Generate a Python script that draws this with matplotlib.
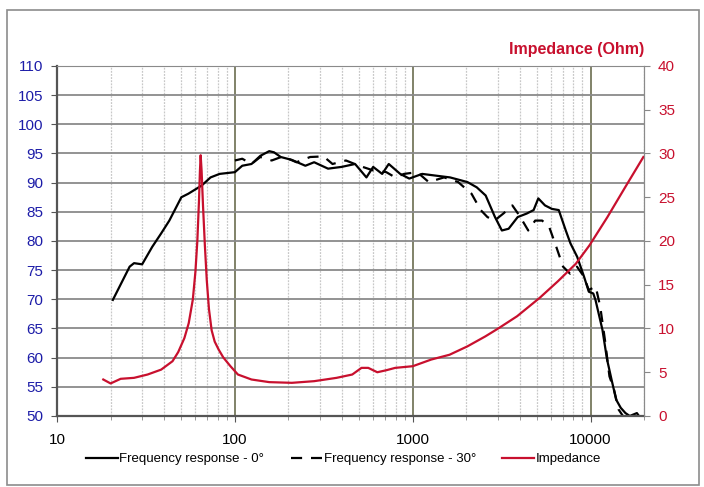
import matplotlib.pyplot as plt
from matplotlib.patches import Rectangle
from matplotlib.ticker import FixedLocator, NullFormatter, LogLocator

plt.rcParams["font.family"] = ["Liberation Sans", "DejaVu Sans"]

# Frequency response - 0 deg (Hz, dB)
f0 = [20.6, 25.6, 27.1, 30.1, 34.3, 38.5, 42.8, 50, 54.7, 65, 73, 82, 100,
      110, 124, 139, 156, 166, 181, 209, 249, 279, 334, 398, 474, 549, 599,
      673, 733, 850, 956, 1130, 1350, 1620, 2030, 2290, 2570, 2900, 3170,
      3460, 3890, 4370, 4780, 5080, 5540, 6060, 6620, 7250, 7700, 8400, 9180,
      9770, 10350, 10650, 11650, 12370, 13120, 13920, 14770, 15700, 16600,
      18200, 18700]
spl0 = [69.9, 75.6, 76.2, 76.0, 79.0, 81.3, 83.5, 87.5, 88.1, 89.5, 90.9,
        91.5, 91.8, 92.9, 93.2, 94.6, 95.4, 95.2, 94.4, 93.9, 92.9, 93.5,
        92.4, 92.7, 93.2, 90.9, 92.7, 91.5, 93.2, 91.5, 90.7, 91.5, 91.2,
        90.9, 90.1, 89.2, 87.8, 84.1, 81.8, 82.1, 84.1, 84.7, 85.3, 87.3,
        86.1, 85.5, 85.3, 81.8, 79.6, 77.3, 73.9, 71.3, 71.0, 69.9, 64.8,
        59.7, 56.2, 52.8, 51.4, 50.5, 50.0, 50.5, 50.0]

# Frequency response - 30 deg
f30 = [100, 110, 124, 139, 161, 186, 222, 265, 315, 354, 421, 500, 599, 710,
       797, 893, 1060, 1230, 1500, 1800, 2140, 2410, 2630, 2880, 3230, 3630,
       3970, 4460, 4880, 5340, 5850, 6410, 7000, 7660, 8380, 9170, 9760,
       10680, 11330, 12030, 12760, 13540, 14370, 15200]
spl30 = [93.8, 94.1, 93.2, 94.4, 93.8, 94.5, 93.5, 94.4, 94.5, 93.2, 93.8,
         92.9, 92.1, 91.8, 90.9, 91.5, 91.8, 90.1, 90.9, 90.1, 88.1, 85.3,
         84.1, 83.5, 84.7, 86.1, 84.4, 81.8, 83.5, 83.5, 82.4, 79.0, 75.6,
         74.4, 75.6, 73.9, 71.6, 72.2, 68.7, 63.1, 56.8, 54.5, 51.1, 50.0]

# Impedance (Hz, Ohm)
fz = [18.2, 20.0, 22.8, 27.1, 32.3, 38.5, 44.6, 48.0, 52.0, 55.0, 58.0,
      60.0, 61.5, 62.8, 63.6, 64.2, 65.0, 66.2, 67.8, 69.5, 71.5, 74.0,
      77.0, 81.0, 86.0, 94.3, 104, 124, 156, 209, 279, 373, 457, 515, 562,
      632, 710, 797, 1000, 1270, 1610, 2030, 2560, 3050, 3860, 5170, 6550,
      8260, 9850, 12400, 15700, 19800]
imp = [4.17, 3.72, 4.25, 4.36, 4.74, 5.3, 6.26, 7.3, 8.9, 10.6, 13.3,
       16.5, 20.0, 24.5, 28.0, 29.8, 28.0, 24.0, 19.5, 15.5, 12.2, 9.8,
       8.5, 7.6, 6.7, 5.7, 4.74, 4.17, 3.87, 3.79, 3.98, 4.36, 4.74, 5.5,
       5.5, 5.0, 5.23, 5.5, 5.69, 6.45, 7.0, 7.96, 9.1, 10.05, 11.4, 13.5,
       15.4, 17.4, 19.5, 22.7, 26.2, 29.6]

spl_ticks = list(range(50, 111, 5))
imp_ticks = list(range(0, 41, 5))

red = "#c8102e"
blue = "#1c1ca8"

fig = plt.figure(figsize=(7.04, 4.87), dpi=100)
fig.patches.append(Rectangle((0.01, 0.005), 0.983, 0.975, transform=fig.transFigure,
                             fill=False, edgecolor="#8c8c8c", linewidth=1.2))

ax = fig.add_axes([0.081, 0.1458, 0.834, 0.7187])
ax.set_xscale("log")
ax.set_xlim(10, 20000)
ax.set_ylim(50, 110)
ax.set_yticks(spl_ticks)
ax.xaxis.set_major_locator(FixedLocator([10, 100, 1000, 10000]))
ax.set_xticklabels(["10", "100", "1000", "10000"])
ax.xaxis.set_minor_locator(LogLocator(base=10, subs=range(2, 10)))
ax.xaxis.set_minor_formatter(NullFormatter())

# grid
ax.grid(True, which="major", axis="y", color="#8a8a8a", linewidth=1.3)
ax.grid(True, which="major", axis="x", color="#5e6040", linewidth=1.1)
ax.grid(True, which="minor", axis="x", color="#c8c8c8", linewidth=0.9, linestyle=(0, (1.5, 1)))
ax.set_axisbelow(True)

ax.plot(f0, spl0, color="black", linewidth=1.6, label="Frequency response - 0°")
ax.plot(f30, spl30, color="black", linewidth=1.6, linestyle=(0, (5, 4)),
        label="Frequency response - 30°")

ax.tick_params(axis="y", colors="#555555", labelcolor=blue, labelsize=11, length=4, pad=6)
ax.tick_params(axis="x", which="major", colors="#555555", labelcolor="black", labelsize=11,
               length=4, pad=8)
ax.tick_params(axis="x", which="minor", colors="#888888", length=3)
for side in ["left", "bottom"]:
    ax.spines[side].set_color("#555555")
    ax.spines[side].set_linewidth(1.6)
ax.spines["top"].set_color("#8a8a8a")
ax.spines["right"].set_color("#8a8a8a")

ax2 = ax.twinx()
ax2.set_ylim(0, 40)
ax2.set_yticks(imp_ticks)
ax2.plot(fz, imp, color=red, linewidth=1.6, label="Impedance")
ax2.tick_params(axis="y", colors="#888888", labelcolor=red, labelsize=11, length=4, pad=6)
ax2.spines["right"].set_color("#8a8a8a")
ax2.spines["left"].set_visible(False)
ax2.spines["top"].set_visible(False)
ax2.spines["bottom"].set_visible(False)

ax2.text(1.0, 1.025, "Impedance (Ohm)", transform=ax2.transAxes, ha="right", va="bottom",
         color=red, fontsize=11.5, fontweight="bold")

h1, l1 = ax.get_legend_handles_labels()
h2, l2 = ax2.get_legend_handles_labels()
fig.legend(h1 + h2, l1 + l2, loc="center", bbox_to_anchor=(0.488, 0.057), ncol=3,
           frameon=False, fontsize=9.5, handlelength=2.4, handletextpad=0.1, columnspacing=2.0)

fig.savefig("out.png", dpi=100)
